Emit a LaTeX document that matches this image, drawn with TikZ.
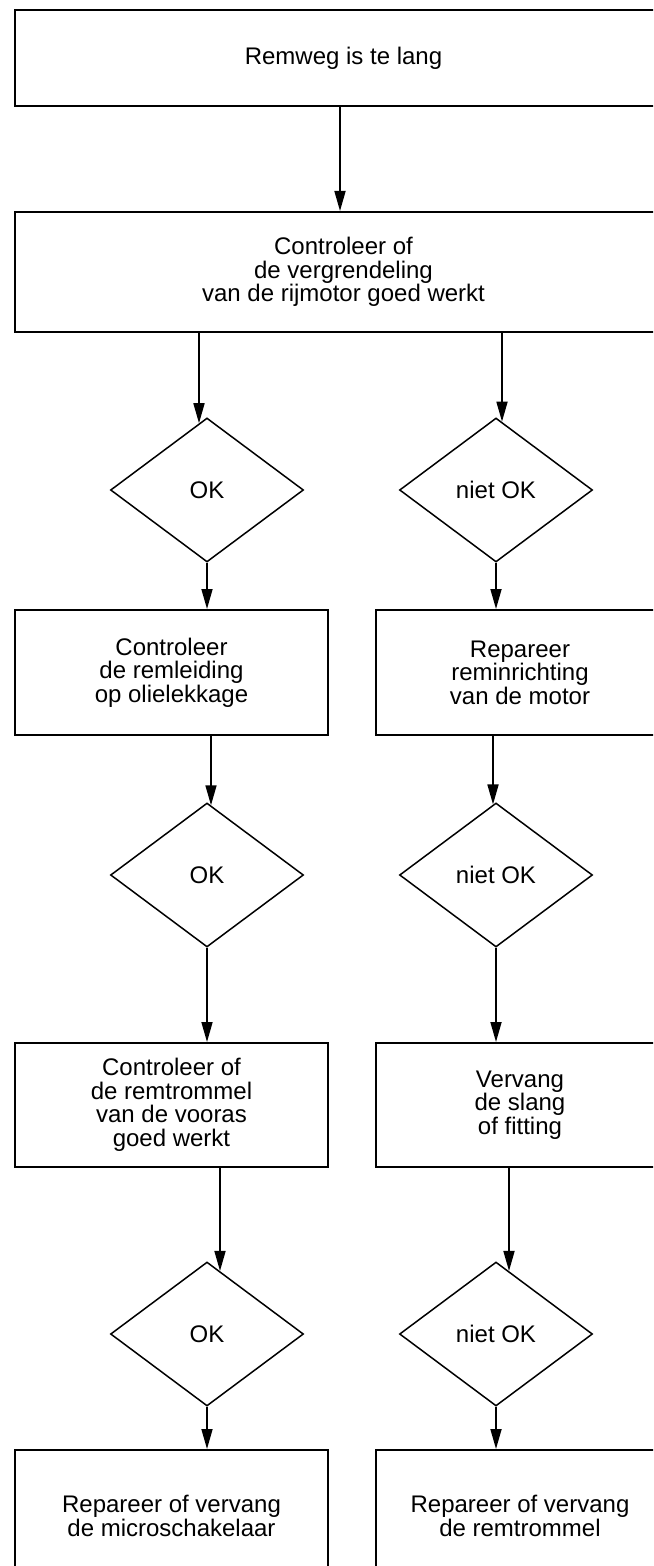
\documentclass[tikz,border=0pt]{standalone}
\usepackage{fontspec}
\setmainfont{Liberation Sans}
\usetikzlibrary{shapes.geometric,arrows.meta}

\begin{document}
\begin{tikzpicture}[x=0.5pt,y=-0.5pt,
  box/.style={draw,line width=1pt,rectangle,inner sep=0pt,align=center,font=\fontsize{12}{11.75}\selectfont},
  ok/.style={draw,line width=0.75pt,diamond,aspect=1.34,inner sep=0pt,minimum width=96.5pt,minimum height=72pt,font=\fontsize{12}{11.75}\selectfont},
  arr/.style={-{Triangle[length=10pt,width=5.5pt]},line width=0.85pt}]
\useasboundingbox (0,0) rectangle (653,1566);
\clip (0,0) rectangle (653,1566);

\node[box,minimum width=328.5pt,minimum height=48pt] (start) at (343.5,58) {Remweg is te lang};
\node[box,minimum width=328.5pt,minimum height=60pt] (chk) at (343.5,272) {Controleer of\\de vergrendeling\\van de rijmotor goed werkt};
\node[ok] (ok1) at (207,490) {OK};
\node[ok] (nok1) at (496,490) {niet OK};
\node[box,minimum width=156.5pt,minimum height=62.5pt] (leiding) at (171.5,672.5) {Controleer\\de remleiding\\op olielekkage};
\node[box,minimum width=144pt,minimum height=62.5pt] (motor) at (520,672.5) {Repareer\\reminrichting\\van de motor};
\node[ok] (ok2) at (207,875) {OK};
\node[ok] (nok2) at (496,875) {niet OK};
\node[box,minimum width=156.5pt,minimum height=62pt] (trommel) at (171.5,1105) {Controleer of\\de remtrommel\\van de vooras\\goed werkt};
\node[box,minimum width=144pt,minimum height=62pt] (slang) at (520,1105) {Vervang\\de slang\\of fitting};
\node[ok] (ok3) at (207,1334) {OK};
\node[ok] (nok3) at (496,1334) {niet OK};
\node[box,minimum width=156.5pt,minimum height=66pt] (micro) at (171.5,1516) {Repareer of vervang\\de microschakelaar};
\node[box,minimum width=144pt,minimum height=66pt] (remtrommel) at (520,1516) {Repareer of vervang\\de remtrommel};

\draw[arr] ([xshift=-1.75pt]start.south) -- ([xshift=-1.75pt]chk.north);
\draw[arr] ([xshift=-4pt]ok1.north |- chk.south) -- ([xshift=-4pt,yshift=-3pt]ok1.north);
\draw[arr] ([xshift=3pt]nok1.north |- chk.south) -- ([xshift=3pt,yshift=-2.2pt]nok1.north);
\draw[arr] (ok1.south) -- (ok1.south |- leiding.north);
\draw[arr] (nok1.south) -- (nok1.south |- motor.north);
\draw[arr] ([xshift=2pt]ok2.north |- leiding.south) -- ([xshift=2pt,yshift=-1.5pt]ok2.north);
\draw[arr] ([xshift=-1.5pt]nok2.north |- motor.south) -- ([xshift=-1.5pt,yshift=-1.1pt]nok2.north);
\draw[arr] (ok2.south) -- (ok2.south |- trommel.north);
\draw[arr] (nok2.south) -- (nok2.south |- slang.north);
\draw[arr] ([xshift=6.5pt]ok3.north |- trommel.south) -- ([xshift=6.5pt,yshift=-4.85pt]ok3.north);
\draw[arr] ([xshift=6.5pt]nok3.north |- slang.south) -- ([xshift=6.5pt,yshift=-4.85pt]nok3.north);
\draw[arr] (ok3.south) -- (ok3.south |- micro.north);
\draw[arr] (nok3.south) -- (nok3.south |- remtrommel.north);
\end{tikzpicture}
\end{document}
